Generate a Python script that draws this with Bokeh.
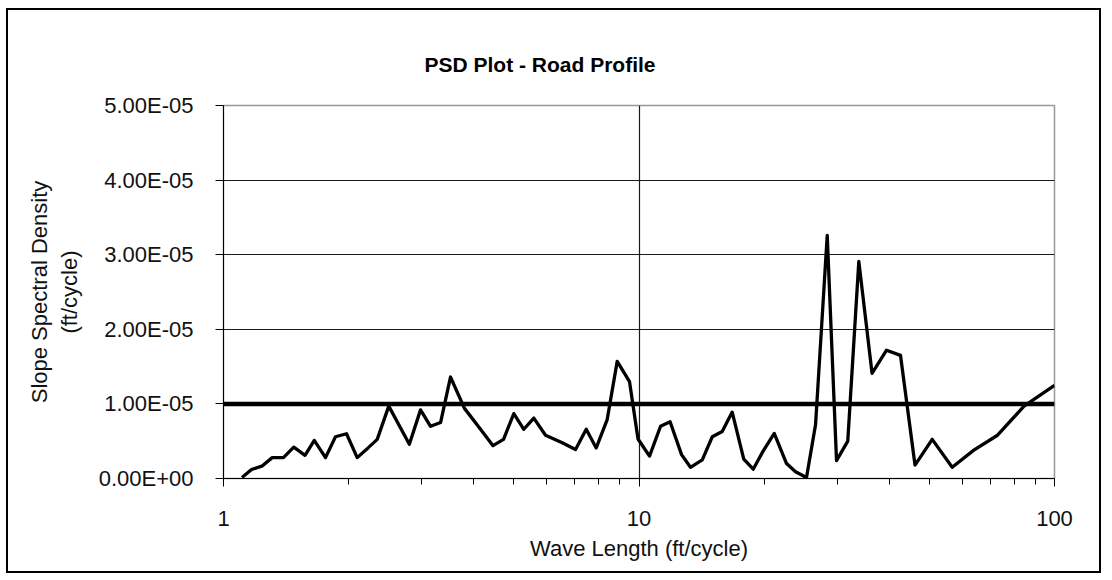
from bokeh.plotting import figure
from bokeh.models import FixedTicker, BasicTickFormatter, CustomJSTickFormatter, Range1d
from bokeh.embed import file_html
from bokeh.resources import INLINE

# Wave length (ft/cycle)
wave_length = [1.108, 1.168, 1.241, 1.310, 1.394, 1.476, 1.571, 1.654, 1.760, 1.860,
               1.977, 2.098, 2.228, 2.344, 2.499, 2.801, 2.980, 3.150, 3.330, 3.518,
               3.802, 4.155, 4.453, 4.720, 4.997, 5.282, 5.583, 5.957, 6.535, 7.035,
               7.464, 7.889, 8.384, 8.862, 9.487, 9.945, 10.60, 11.27, 11.88, 12.66,
               13.30, 14.20, 15.01, 15.86, 16.76, 17.87, 18.83, 19.91, 21.16, 22.65,
               23.81, 25.30, 26.60, 28.38, 29.88, 31.80, 33.81, 36.38, 39.42, 42.60,
               46.16, 50.78, 56.73, 63.95, 72.93, 84.46, 100.0]
# Slope spectral density (ft/cycle)
psd = [1.3e-07, 1.2e-06, 1.7e-06, 2.8e-06, 2.8e-06, 4.2e-06, 3.1e-06, 5.1e-06, 2.8e-06, 5.6e-06,
       6.0e-06, 2.8e-06, 4.1e-06, 5.25e-06, 9.7e-06, 4.6e-06, 9.2e-06, 7.0e-06, 7.5e-06, 1.36e-05,
       9.4e-06, 6.6e-06, 4.4e-06, 5.25e-06, 8.7e-06, 6.6e-06, 8.1e-06, 5.8e-06, 4.8e-06, 3.9e-06,
       6.6e-06, 4.1e-06, 7.9e-06, 1.57e-05, 1.30e-05, 5.3e-06, 3.0e-06, 7.0e-06, 7.6e-06, 3.2e-06,
       1.5e-06, 2.5e-06, 5.6e-06, 6.3e-06, 8.9e-06, 2.6e-06, 1.25e-06, 3.7e-06, 6.05e-06, 2.0e-06,
       9.0e-07, 1.3e-07, 7.2e-06, 3.26e-05, 2.4e-06, 5.0e-06, 2.91e-05, 1.41e-05, 1.72e-05, 1.65e-05,
       1.8e-06, 5.25e-06, 1.5e-06, 3.8e-06, 5.8e-06, 9.7e-06, 1.25e-05]
# Reference threshold line
threshold_x = [1, 100]
threshold_y = [1.0e-05, 1.0e-05]

x_ticks = [1, 10, 100]
x_minor_ticks = [2, 3, 4, 5, 6, 7, 8, 9, 20, 30, 40, 50, 60, 70, 80, 90]
y_ticks = [0.0, 1.0e-05, 2.0e-05, 3.0e-05, 4.0e-05, 5.0e-05]
y_tick_labels = ["0.00E+00", "1.00E-05", "2.00E-05", "3.00E-05", "4.00E-05", "5.00E-05"]

FONT = "Liberation Sans"
TEXT = "#111111"

p = figure(width=1095, height=565, x_axis_type="log",
           x_range=Range1d(1, 100), y_range=Range1d(0, 5.0e-05),
           output_backend="svg", toolbar_location=None,
           title="PSD Plot - Road Profile",
           min_border_left=215, min_border_right=49,
           min_border_top=95, min_border_bottom=97)
p.styles = {"border": "2px solid #000000", "margin-left": "6px", "margin-top": "8px"}

p.title.align = "left"
p.title.offset = 201
p.title.standoff = 59
p.title.text_font = FONT
p.title.text_font_style = "bold"
p.title.text_font_size = "21px"
p.title.text_color = "#000000"

p.background_fill_color = "white"
p.border_fill_color = "white"
p.outline_line_color = "#999999"
p.outline_line_width = 1.5

# x axis
xa = p.xaxis[0]
xa.ticker = FixedTicker(ticks=x_ticks, minor_ticks=x_minor_ticks)
xa.formatter = BasicTickFormatter()
xa.axis_label = "Wave Length (ft/cycle)"
xa.axis_label_text_font = FONT
xa.axis_label_text_font_style = "normal"
xa.axis_label_text_font_size = "22px"
xa.axis_label_text_color = TEXT
xa.axis_label_standoff = 7
xa.major_label_text_font = FONT
xa.major_label_text_font_size = "22px"
xa.major_label_text_color = TEXT
xa.major_label_standoff = 24
xa.major_tick_in = 0
xa.major_tick_out = 8
xa.minor_tick_in = 0
xa.minor_tick_out = 6
xa.axis_line_color = "black"
xa.major_tick_line_color = "black"
xa.minor_tick_line_color = "black"

# y axis
ya = p.yaxis[0]
ya.ticker = FixedTicker(ticks=y_ticks)
ya.formatter = CustomJSTickFormatter(code="""
const s = tick.toExponential(2).toUpperCase();
const parts = s.split('E');
const n = parseInt(parts[1]);
const sign = n < 0 ? '-' : '+';
const a = Math.abs(n).toString().padStart(2, '0');
return parts[0] + 'E' + sign + a;
""")
ya.major_label_overrides = dict(zip(y_ticks, y_tick_labels))
ya.axis_label = "Slope Spectral Density\n(ft/cycle)"
ya.axis_label_text_font = FONT
ya.axis_label_text_font_style = "normal"
ya.axis_label_text_font_size = "22px"
ya.axis_label_text_color = TEXT
ya.axis_label_standoff = 14
ya.major_label_text_font = FONT
ya.major_label_text_font_size = "22px"
ya.major_label_text_color = TEXT
ya.major_label_standoff = 22
ya.major_tick_in = 0
ya.major_tick_out = 8
ya.minor_tick_line_color = None
ya.axis_line_color = "black"
ya.major_tick_line_color = "black"

# grids
p.xgrid.ticker = FixedTicker(ticks=[10])
p.xgrid.grid_line_color = "#1a1a1a"
p.xgrid.grid_line_width = 1.2
p.ygrid.ticker = FixedTicker(ticks=y_ticks[1:5])
p.ygrid.grid_line_color = "#1a1a1a"
p.ygrid.grid_line_width = 1.2

p.line(threshold_x, threshold_y, line_color="black", line_width=4.5)
p.line(wave_length, psd, line_color="black", line_width=3.3, line_join="round")

open("out.html", "w").write(file_html(p, INLINE))
